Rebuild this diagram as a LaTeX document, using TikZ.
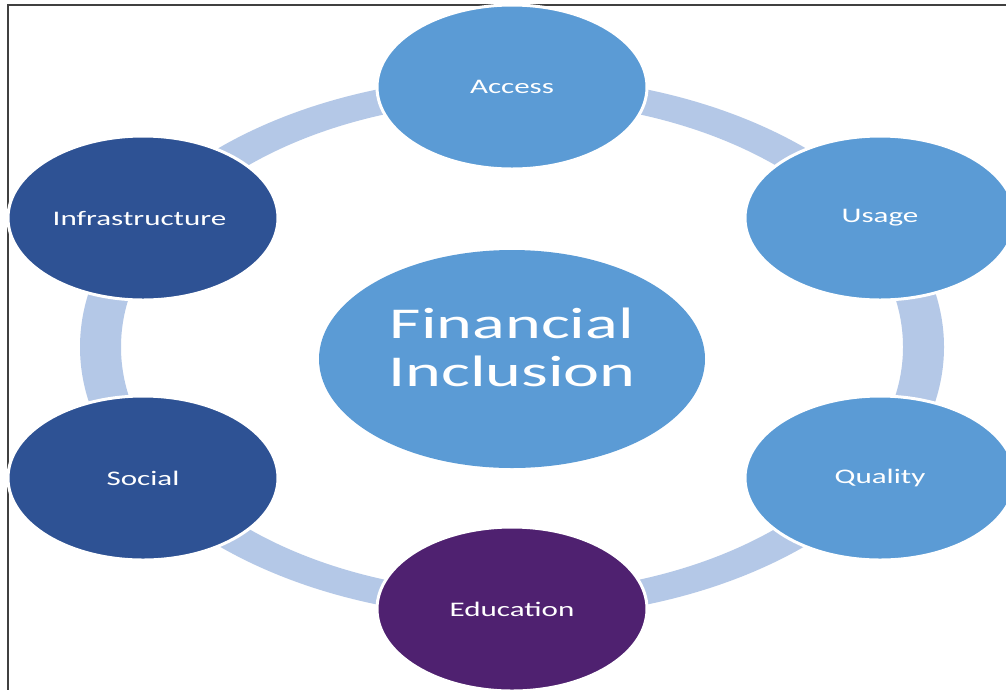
\documentclass[tikz,border=0pt]{standalone}
\usepackage{fontspec}
\setmainfont{Carlito}
\usetikzlibrary{shapes.geometric}

\definecolor{lightblue}{RGB}{91,155,213}
\definecolor{darkblue}{RGB}{46,82,148}
\definecolor{plum}{RGB}{79,33,112}
\definecolor{ringblue}{RGB}{180,200,231}
\newcommand{\wide}[2][1.5]{\scalebox{#1}[1]{#2}}

\begin{document}
\begin{tikzpicture}[x=1pt, y=-1pt,
	part/.style={ellipse, draw=white, line width=3pt, inner sep=0pt,
		minimum width=270pt, minimum height=164pt,
		text=white, font=\fontsize{20.7}{24}\selectfont},
	hub/.style={ellipse, fill=lightblue, inner sep=0pt,
		minimum width=386pt, minimum height=218pt},
	hubtext/.style={align=center, inner sep=0pt,
		text=white, font=\fontsize{44}{48}\selectfont}]

	\clip (0,0) rectangle (1006,689);
	\fill [white] (0,0) rectangle (1006,689);

	%frame
	\draw [black!75, line width=2pt] (8,690) -- (8,5) -- (1007,5);

	%ring
	\fill [ringblue, even odd rule]
		(512,347) ellipse [x radius=432pt, y radius=271pt]
		(512,347) ellipse [x radius=391pt, y radius=246pt];

	%nodes
	\foreach \x/\y/\c/\name/\txt in {
		512/87/lightblue/access/Access,
		880/218/lightblue/usage/Usage,
		880/478/lightblue/quality/Quality,
		512/609/plum/education/Education,
		143/478/darkblue/social/Social,
		143/218/darkblue/infra/Infrastructure
	}\node [part, fill=\c] (\name) at (\x,\y) {\wide{\txt}};

	\node [hub] (fi) at (512,359) {};
	\node [hubtext] (fitext) at ([yshift=12pt]fi.center)
		{\wide[1.55]{Financial}\\\wide[1.55]{Inclusion}};

\end{tikzpicture}
\end{document}
